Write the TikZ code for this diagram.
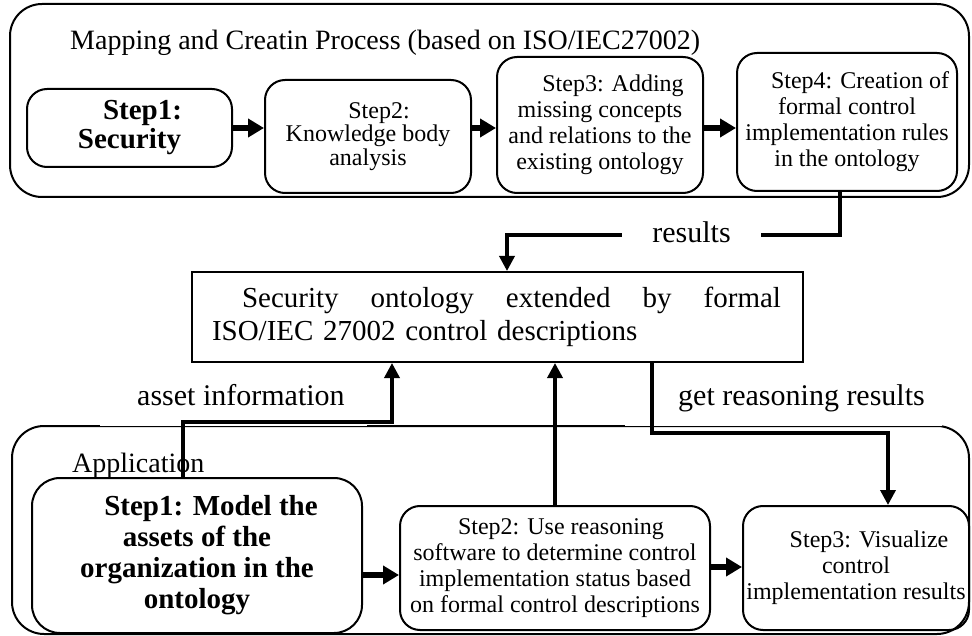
\documentclass[tikz,border=0pt]{standalone}
\usepackage{fontspec}
\setmainfont{Liberation Serif}
\usetikzlibrary{arrows.meta}
\newcommand{\fStep}{\fontsize{24}{26}\selectfont}
\newcommand{\fStepB}{\fontsize{24}{23.5}\selectfont}
\newcommand{\fBold}{\fontsize{29}{29}\selectfont\bfseries}
\newcommand{\fBoldB}{\fontsize{29}{31}\selectfont\bfseries}
\newcommand{\fTitle}{\fontsize{28}{30}\selectfont}
\newcommand{\fLabel}{\fontsize{30}{32}\selectfont}
\newcommand{\fMain}{\fontsize{29}{33}\selectfont}
\tikzset{
  outerbox/.style={draw, line width=2pt, rounded corners=32pt, inner sep=0pt},
  stepbox/.style={draw, line width=2pt, rounded corners=20pt, inner sep=0pt, align=center, font=\fStep},
  mainbox/.style={draw, line width=2pt, inner sep=0pt, align=left, font=\fMain},
  cover/.style={fill=white, draw=none, inner sep=0pt},
  lbl/.style={inner sep=0pt, font=\fLabel},
  harrow/.style={line width=5.5pt, -{Triangle[length=16pt,width=18pt]}},
  conn/.style={line width=3.5pt, -{Triangle[length=15pt,width=15pt]}}
}
\begin{document}
\begin{tikzpicture}[x=1pt,y=-1pt]
\useasboundingbox (0,0) rectangle (972,636);
\fill[white] (0,0) rectangle (972,636);

% containers
\node[outerbox, minimum width=959pt, minimum height=193pt] (top) at (489.5,100.5) {};
\node[outerbox, minimum width=957pt, minimum height=208pt] (bot) at (490.5,530) {};

% title
\node[anchor=base west, inner sep=0pt, font=\fTitle] (title) at (70,50) {Mapping and Creatin Process (based on ISO/IEC27002)};

% top steps
\node[stepbox, font=\fBold, minimum width=205pt, minimum height=78pt] (s1) at (129.5,128)
  {\hspace*{26pt}Step1:\\Security};
\node[stepbox, font=\fStepB, minimum width=206pt, minimum height=113pt] (s2) at (368,136.5)
  {\hspace*{22pt}Step2:\\Knowledge body\\analysis};
\node[stepbox, minimum width=206pt, minimum height=136pt] (s3) at (600,125)
  {\hspace*{26pt}Step3: Adding\\missing concepts\\and relations to the\\existing ontology};
\node[stepbox, minimum width=220pt, minimum height=138pt] (s4) at (847,122)
  {\hspace*{26pt}Step4: Creation of\\formal control\\implementation rules\\in the ontology};

\draw[harrow] (s1.east) -- (s1.east -| s2.west);
\draw[harrow] (s2.east |- s1.east) -- (s3.west |- s1.east);
\draw[harrow] (s3.east |- s1.east) -- (s4.west |- s1.east);

% main box
\node[mainbox, minimum width=611pt, minimum height=90pt, text width=571pt] (main) at (497.5,317)
  {\hspace*{30pt}\makebox[539pt][l]{Security\hfill ontology\hfill extended\hfill by\hfill formal}\\ISO/IEC 27002 control descriptions};

% application
\node[anchor=base west, inner sep=0pt, font=\fTitle] (app) at (72,472) {Application};

\node[stepbox, font=\fBoldB, rounded corners=28pt, minimum width=330pt, minimum height=155pt] (a1) at (197,555.5)
  {\hspace*{28pt}Step1: Model the\\assets of the\\organization in the\\ontology};
\node[stepbox, minimum width=310pt, minimum height=124pt] (a2) at (555,568)
  {\hspace*{12pt}Step2: Use reasoning\\software to determine control\\implementation status based\\on formal control descriptions};
\node[stepbox, minimum width=226pt, minimum height=124pt] (a3) at (856,568)
  {\hspace*{26pt}Step3: Visualize\\control\\implementation results};

\coordinate (h1) at (0,575);
\coordinate (h2) at (0,567);
\draw[harrow] (a1.east |- h1) -- (a2.west |- h1);
\draw[harrow] (a2.east |- h2) -- (a3.west |- h2);

% label covers on the container border
\node[cover, minimum width=267pt, minimum height=44pt] (cova) at (233.5,404) {};
\node[cover, minimum width=317pt, minimum height=44pt] (covg) at (783.5,404) {};
\node[lbl, anchor=base west] (asset) at (137,405) {asset information};
\node[lbl, anchor=base west] (reason) at (678,405) {get reasoning results};

% connectors
\coordinate (r1) at (840,235);
\coordinate (r2) at (507,235);
\draw[conn] (s4.south -| r1) -- (r1) -- (r2) -- (main.north -| r2);
\node[lbl, anchor=base, fill=white, inner xsep=30pt, inner ysep=1pt] (res) at (691.5,243) {results};

\coordinate (as1) at (183,422);
\coordinate (as2) at (392,422);
\draw[conn] (a1.north -| as1) -- (as1) -- (as2) -- (main.south -| as2);

\draw[conn] (a2.north) -- (main.south -| a2.north);

\coordinate (g1) at (652,433);
\coordinate (g2) at (888,433);
\draw[conn] (main.south -| g1) -- (g1) -- (g2) -- (a3.north -| g2);
\end{tikzpicture}
\end{document}
